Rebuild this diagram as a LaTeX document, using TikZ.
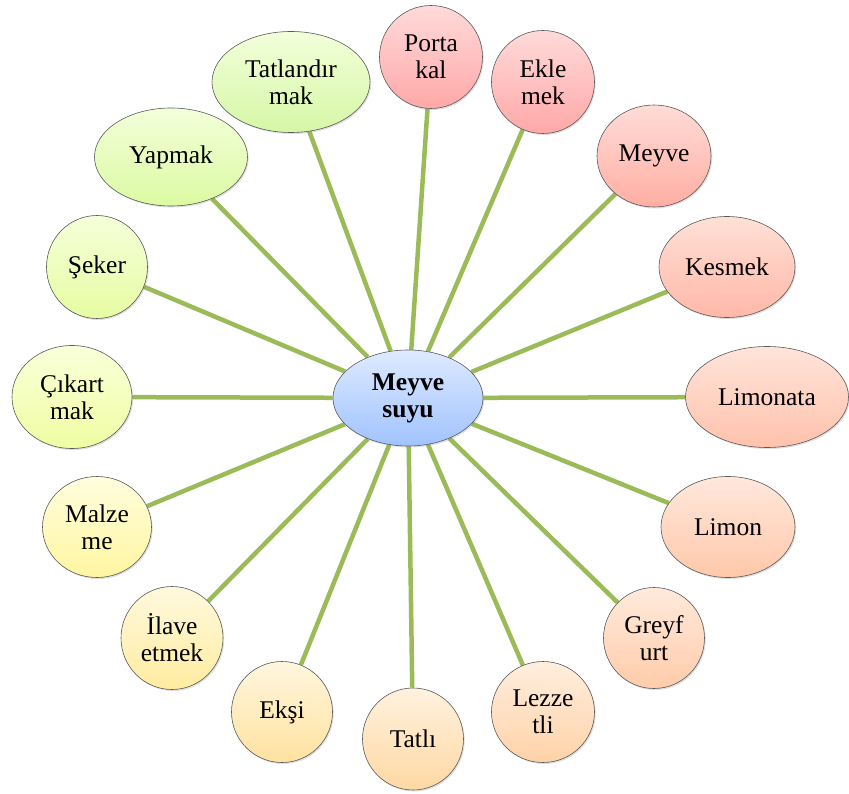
\documentclass[tikz,border=0pt]{standalone}
\usepackage{fontspec}
\setmainfont{Liberation Serif}
\usetikzlibrary{shapes.geometric,shadows,backgrounds}
\definecolor{conn}{RGB}{155,187,89}
\definecolor{edge}{RGB}{90,90,90}
\tikzset{
  bub/.style={ellipse, draw=edge, line width=0.6pt, inner sep=0pt, align=center,
    font=\fontsize{25.5}{27}\selectfont,
    drop shadow={opacity=0.25, shadow xshift=1.2pt, shadow yshift=-1.5pt}},
  sz/.style 2 args={minimum width=#1pt, minimum height=#2pt},
  col/.style n args={6}{top color={rgb,255:red,#1;green,#2;blue,#3}, bottom color={rgb,255:red,#4;green,#5;blue,#6}},
  link/.style={draw=conn, line width=4.5pt}
}
\begin{document}
\begin{tikzpicture}[x=1pt,y=-1pt]
\useasboundingbox (0,0) rectangle (849,794);
\node[bub, sz={150}{96}, col={222}{234}{255}{160}{195}{255}, font=\fontsize{25.5}{27}\selectfont\bfseries] (c) at (408,398) {Meyve\\suyu};
\node[bub, sz={158}{101}, col={242}{255}{218}{214}{247}{166}] (tat) at (291,82) {Tatlandır\\mak};
\node[bub, sz={103}{103}, col={255}{218}{218}{255}{168}{168}] (por) at (431,57) {Porta\\kal};
\node[bub, sz={103}{103}, col={255}{218}{218}{255}{168}{168}] (ekl) at (543,82) {Ekle\\mek};
\node[bub, sz={114}{102}, col={255}{220}{214}{255}{174}{164}] (mey) at (654,156) {Meyve};
\node[bub, sz={136}{101}, col={255}{224}{214}{255}{184}{168}] (kes) at (727,267) {Kesmek};
\node[bub, sz={163}{101}, col={255}{228}{218}{255}{194}{172}] (lmt) at (767,397) {Limonata};
\node[bub, sz={134}{101}, col={255}{232}{220}{255}{200}{170}] (lim) at (728,527) {Limon};
\node[bub, sz={101}{101}, col={255}{234}{220}{255}{204}{170}] (gre) at (654,638) {Greyf\\urt};
\node[bub, sz={103}{101}, col={255}{238}{222}{255}{210}{168}] (lez) at (543,712) {Lezze\\tli};
\node[bub, sz={101}{102}, col={255}{242}{222}{255}{216}{164}] (tatli) at (413,739) {Tatlı};
\node[bub, sz={101}{101}, col={255}{246}{222}{255}{226}{160}] (eks) at (282,712) {Ekşi};
\node[bub, sz={102}{103}, col={255}{249}{222}{255}{236}{160}] (ila) at (172,638) {İlave\\etmek};
\node[bub, sz={109}{101}, col={255}{253}{222}{255}{246}{160}] (mal) at (97,527) {Malze\\me};
\node[bub, sz={120}{103}, col={250}{255}{218}{240}{254}{162}] (cik) at (72,397) {Çıkart\\mak};
\node[bub, sz={101}{103}, col={246}{255}{218}{230}{252}{162}] (sek) at (97,267) {Şeker};
\node[bub, sz={153}{98}, col={242}{255}{218}{220}{250}{162}] (yap) at (171,157) {Yapmak};
\begin{scope}[on background layer]
\foreach \n in {tat,por,ekl,mey,kes,lmt,lim,gre,lez,tatli,eks,ila,mal,cik,sek,yap}
  \draw[link] (c) -- (\n);
\end{scope}
\end{tikzpicture}
\end{document}
